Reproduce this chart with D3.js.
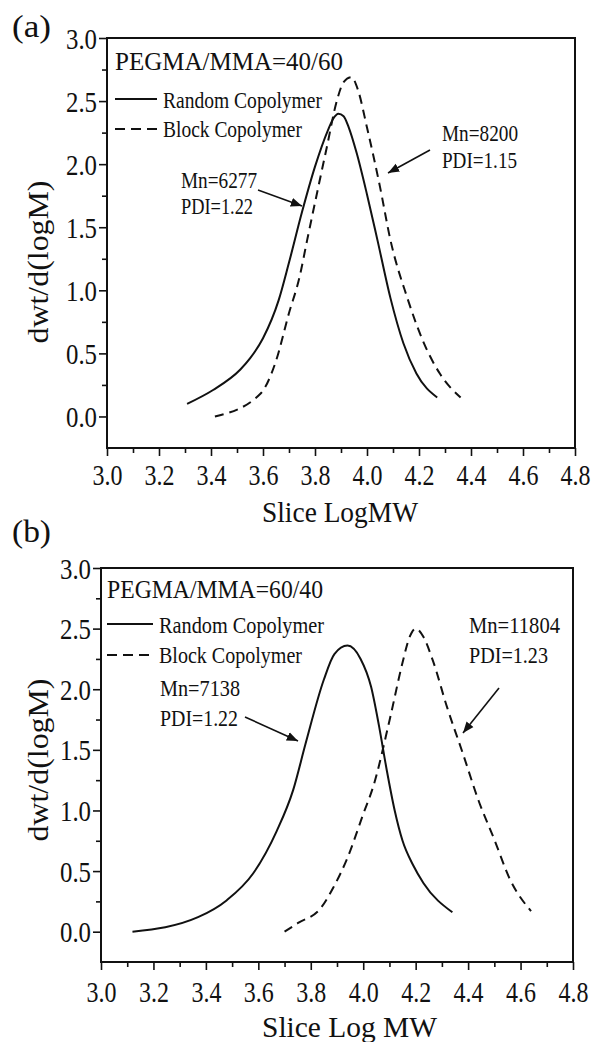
<!DOCTYPE html>
<html>
<head>
<meta charset="utf-8">
<script src="https://cdn.jsdelivr.net/npm/d3@7"></script>
<style>
  body { margin: 0; background: #fff; }
  svg text { font-family: "Liberation Serif", "Times New Roman", Times, serif; fill: #111; }
</style>
</head>
<body>
<svg id="chart" width="592" height="1042"></svg>
<script>
var FONT = '"Liberation Serif", "Times New Roman", Times, serif';

// axis ticks, same for both panels
var xTicks = [3.0, 3.2, 3.4, 3.6, 3.8, 4.0, 4.2, 4.4, 4.6, 4.8];
var xMinor = [3.1, 3.3, 3.5, 3.7, 3.9, 4.1, 4.3, 4.5, 4.7];
var yTicks = [0.0, 0.5, 1.0, 1.5, 2.0, 2.5, 3.0];
var yMinor = [0.25, 0.75, 1.25, 1.75, 2.25, 2.75];

// panel (a) PEGMA/MMA=40/60
var a_randomX = [3.308, 3.408, 3.512, 3.55, 3.60, 3.66, 3.70, 3.75, 3.80, 3.85, 3.87, 3.89, 3.91, 3.93, 3.96, 4.00, 4.04, 4.09, 4.14, 4.19, 4.27];
var a_randomY = [0.10, 0.21, 0.37, 0.46, 0.62, 0.92, 1.22, 1.62, 1.98, 2.27, 2.36, 2.40, 2.38, 2.29, 2.09, 1.76, 1.40, 0.94, 0.58, 0.34, 0.15];
var a_blockX = [3.415, 3.59, 3.65, 3.70, 3.74, 3.77, 3.845, 3.885, 3.91, 3.94, 3.965, 4.00, 4.05, 4.09, 4.155, 4.215, 4.28, 4.36];
var a_blockY = [0.0, 0.18, 0.44, 0.82, 1.10, 1.40, 2.13, 2.51, 2.65, 2.69, 2.59, 2.29, 1.82, 1.40, 0.94, 0.60, 0.34, 0.15];

// panel (b) PEGMA/MMA=60/40
var b_randomX = [3.12, 3.37, 3.48, 3.58, 3.67, 3.733, 3.78, 3.85, 3.89, 3.94, 3.99, 4.03, 4.06, 4.09, 4.12, 4.15, 4.19, 4.23, 4.34];
var b_randomY = [0.0, 0.12, 0.26, 0.48, 0.83, 1.17, 1.55, 2.08, 2.29, 2.36, 2.25, 2.02, 1.70, 1.33, 1.00, 0.75, 0.55, 0.40, 0.16];
var b_blockX = [3.70, 3.75, 3.84, 3.885, 3.94, 4.00, 4.04, 4.10, 4.15, 4.175, 4.20, 4.23, 4.265, 4.32, 4.38, 4.44, 4.50, 4.56, 4.64];
var b_blockY = [0.0, 0.07, 0.20, 0.36, 0.61, 0.97, 1.21, 1.74, 2.22, 2.42, 2.50, 2.43, 2.24, 1.85, 1.47, 1.08, 0.76, 0.43, 0.17];

var legendNames = ["Random Copolymer", "Block Copolymer"];

var svg = d3.select("#chart");

// arrow head for the Mn / PDI callouts
svg.append("defs").append("marker")
    .attr("id", "arrow")
    .attr("viewBox", "0 0 10 10")
    .attr("refX", 10).attr("refY", 5)
    .attr("markerWidth", 7).attr("markerHeight", 7)
    .attr("markerUnits", "strokeWidth")
    .attr("orient", "auto")
  .append("path")
    .attr("d", "M0,1 L10,5 L0,9 Z")
    .attr("fill", "#111");

function addText(x, y, str, size, len, anchor) {
  var t = svg.append("text")
      .attr("x", x).attr("y", y)
      .attr("font-family", FONT)
      .attr("font-size", size)
      .attr("text-anchor", anchor || "start")
      .text(str);
  if (len) t.attr("textLength", len).attr("lengthAdjust", "spacingAndGlyphs");
  return t;
}

function addArrow(x1, y1, x2, y2) {
  svg.append("line")
      .attr("x1", x1).attr("y1", y1).attr("x2", x2).attr("y2", y2)
      .attr("stroke", "#111").attr("stroke-width", 1.6)
      .attr("marker-end", "url(#arrow)");
}

function makePanel(p, randomX, randomY, blockX, blockY) {
  var x = d3.scaleLinear().domain([3.0, 4.8]).range([p.left, p.right]);
  var y = d3.scaleLinear().domain([-0.25, 3.0]).range([p.bottom, p.top]);

  var g = svg.append("g");

  // minor ticks first
  g.append("g")
      .attr("transform", "translate(0," + p.bottom + ")")
      .call(d3.axisBottom(x).tickValues(xMinor).tickSize(5).tickFormat(""))
      .call(s => s.select(".domain").remove());
  g.append("g")
      .attr("transform", "translate(" + p.left + ",0)")
      .call(d3.axisLeft(y).tickValues(yMinor).tickSize(5).tickFormat(""))
      .call(s => s.select(".domain").remove());

  var xAxis = g.append("g")
      .attr("transform", "translate(0," + p.bottom + ")")
      .call(d3.axisBottom(x).tickValues(xTicks).tickSize(8).tickSizeOuter(0).tickFormat(d3.format(".1f")));
  xAxis.select(".domain").remove();
  xAxis.selectAll("text")
      .attr("dy", null).attr("y", p.xLabelDy)
      .attr("font-size", 30).attr("font-family", FONT)
      .attr("textLength", 30).attr("lengthAdjust", "spacingAndGlyphs");

  var yAxis = g.append("g")
      .attr("transform", "translate(" + p.left + ",0)")
      .call(d3.axisLeft(y).tickValues(yTicks).tickSize(8).tickSizeOuter(0).tickFormat(d3.format(".1f")));
  yAxis.select(".domain").remove();
  yAxis.selectAll("text")
      .attr("dy", null).attr("x", -10).attr("y", 10)
      .attr("font-size", 30).attr("font-family", FONT)
      .attr("textLength", 31).attr("lengthAdjust", "spacingAndGlyphs");

  g.selectAll(".tick line").attr("stroke", "#111").attr("stroke-width", 1.6);

  // frame
  g.append("rect")
      .attr("x", p.left).attr("y", p.top)
      .attr("width", p.right - p.left).attr("height", p.bottom - p.top)
      .attr("fill", "none").attr("stroke", "#111").attr("stroke-width", 2);

  var line = d3.line()
      .x(d => x(d[0])).y(d => y(d[1]))
      .curve(d3.curveMonotoneX);

  g.append("path")
      .datum(d3.zip(randomX, randomY))
      .attr("d", line)
      .attr("fill", "none").attr("stroke", "#111").attr("stroke-width", 2);

  g.append("path")
      .datum(d3.zip(blockX, blockY))
      .attr("d", line)
      .attr("fill", "none").attr("stroke", "#111").attr("stroke-width", 2)
      .attr("stroke-dasharray", "9,6");

  // legend
  var lg = p.legend;
  addText(lg.x, lg.titleY, p.title, 25, p.titleLen);
  g.append("line")
      .attr("x1", lg.x).attr("x2", lg.x + lg.lineW)
      .attr("y1", lg.row1 - 9).attr("y2", lg.row1 - 9)
      .attr("stroke", "#111").attr("stroke-width", 2);
  g.append("line")
      .attr("x1", lg.x).attr("x2", lg.x + lg.lineW)
      .attr("y1", lg.row2 - 8).attr("y2", lg.row2 - 8)
      .attr("stroke", "#111").attr("stroke-width", 2)
      .attr("stroke-dasharray", "10,6");
  addText(lg.x + lg.lineW + 6, lg.row1, legendNames[0], 23, lg.len1);
  addText(lg.x + lg.lineW + 6, lg.row2, legendNames[1], 23, lg.len2);

  // axis titles
  addText(p.xTitleX, p.xTitleY, p.xTitle, 29, p.xTitleLen);
  svg.append("text")
      .attr("transform", "translate(" + p.yTitleX + "," + p.yTitleY + ") rotate(-90)")
      .attr("text-anchor", "middle")
      .attr("font-family", FONT)
      .attr("font-size", 29)
      .attr("textLength", 163).attr("lengthAdjust", "spacingAndGlyphs")
      .text("dwt/d(logM)");

  addText(12, p.tagY, p.tag, 31, 39);

  // callouts
  p.notes.forEach(function(n) {
    addText(n.x, n.y1, n.mn, 23, n.len1);
    addText(n.x, n.y2, n.pdi, 23, n.len2);
    addArrow(n.ax1, n.ay1, n.ax2, n.ay2);
  });
}

makePanel({
  tag: "(a)", tagY: 37,
  left: 107, right: 575, top: 38, bottom: 448,
  xLabelDy: 37,
  title: "PEGMA/MMA=40/60", titleLen: 228,
  legend: { x: 115, lineW: 42, titleY: 70, row1: 108, row2: 137, len1: 159, len2: 139 },
  xTitle: "Slice LogMW", xTitleX: 262, xTitleY: 522, xTitleLen: 156,
  yTitleX: 48, yTitleY: 262,
  notes: [
    { x: 181, y1: 188, y2: 214, mn: "Mn=6277", pdi: "PDI=1.22", len1: 76, len2: 72, ax1: 258, ay1: 190, ax2: 302, ay2: 206 },
    { x: 442, y1: 141, y2: 168, mn: "Mn=8200", pdi: "PDI=1.15", len1: 76, len2: 75, ax1: 430, ay1: 150, ax2: 388, ay2: 173 }
  ]
}, a_randomX, a_randomY, a_blockX, a_blockY);

makePanel({
  tag: "(b)", tagY: 542,
  left: 101, right: 573, top: 568, bottom: 962,
  xLabelDy: 40,
  title: "PEGMA/MMA=60/40", titleLen: 216,
  legend: { x: 107, lineW: 46, titleY: 598, row1: 633, row2: 663, len1: 165, len2: 143 },
  xTitle: "Slice Log MW", xTitleX: 262, xTitleY: 1037, xTitleLen: 175,
  yTitleX: 48, yTitleY: 760,
  notes: [
    { x: 160, y1: 696, y2: 726, mn: "Mn=7138", pdi: "PDI=1.22", len1: 80, len2: 78, ax1: 245, ay1: 717, ax2: 298, ay2: 741 },
    { x: 469, y1: 633, y2: 663, mn: "Mn=11804", pdi: "PDI=1.23", len1: 91, len2: 79, ax1: 499, ay1: 688, ax2: 463, ay2: 733 }
  ]
}, b_randomX, b_randomY, b_blockX, b_blockY);
</script>
</body>
</html>
